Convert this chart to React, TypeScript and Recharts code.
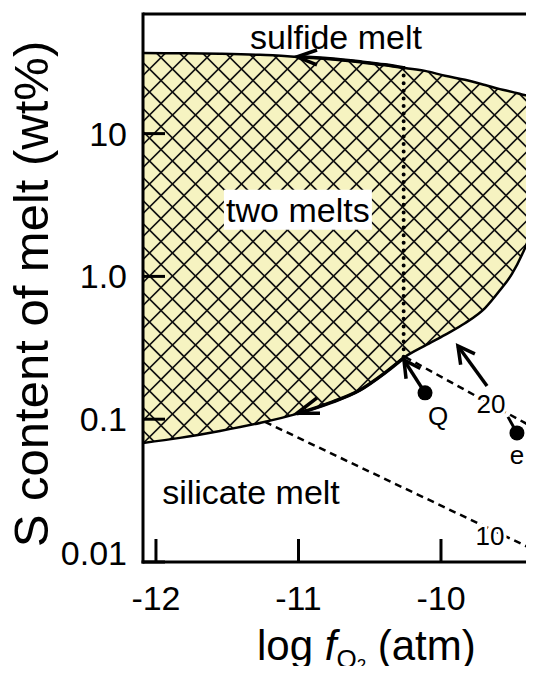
import { ComposedChart, Area, Scatter, XAxis, YAxis, ReferenceLine, ReferenceDot } from 'recharts'

const FONT = '"Liberation Sans", Arial, Helvetica, sans-serif'

// axis ranges (log fO2, wt% S)
const xDomain = [-12.091, -9.221]
const yDomain = [0.01, 68.8]
const xTicks = [-12, -11, -10]
const yTicks = [0.01, 0.1, 1, 10]
const yTickLabels: Record<number, string> = { 0.01: '0.01', 0.1: '0.1', 1: '1.0', 10: '10' }

// two-melt field: sulfide-melt saturation (top) and silicate-melt saturation (bottom)
const regionX = [-12.091, -11.832, -11.551, -11.27, -11.011, -10.779, -10.568, -10.393, -10.253, -10.112, -9.972, -9.832, -9.691, -9.586, -9.502, -9.432, -9.389, -9.368, -9.361]
const sulfideSat = [36.7, 36.5, 36.2, 35.6, 34.5, 33.4, 31.8, 30.3, 28.8, 27.5, 25.4, 23.8, 21.9, 20.5, 19.6, 18.8, 18.4, 18.1, 17.8]
const silicateSat = [0.0682, 0.074, 0.0828, 0.0942, 0.109, 0.13, 0.16, 0.211, 0.273, 0.328, 0.39, 0.47, 0.6, 0.8, 1.04, 1.42, 1.8, 2.19, 17.8]

// bold path segments along the boundaries
const pathStart = 4
const pathEnd = 9

// arrows
const upperHead = [{ x: -10.87, y: 38.5 }, { x: -11.011, y: 34.5 }, { x: -10.87, y: 30.3 }]
const lowerHead = [{ x: -10.87, y: 0.141 }, { x: -11.011, y: 0.11 }, { x: -10.849, y: 0.11 }]
const qShaft = [{ x: -10.112, y: 0.153 }, { x: -10.26, y: 0.26 }]
const qHead = [{ x: -10.145, y: 0.2265 }, { x: -10.26, y: 0.26 }, { x: -10.245, y: 0.192 }]
const arrow20Shaft = [{ x: -9.677, y: 0.171 }, { x: -9.881, y: 0.326 }]
const arrow20Head = [{ x: -9.762, y: 0.287 }, { x: -9.881, y: 0.326 }, { x: -9.862, y: 0.241 }]
const eTail = [{ x: -9.467, y: 0.0802 }, { x: -9.53, y: 0.1038 }]

// sample points
const samples = [{ x: -10.112, y: 0.153 }, { x: -9.467, y: 0.0802 }]

// dashed trends and the dotted line
const trend20 = [{ x: -10.253, y: 0.273 }, { x: -9.347, y: 0.0869 }]
const trend10 = [{ x: -11.235, y: 0.0957 }, { x: -9.347, y: 0.01216 }]
const dotted = [{ x: -10.262, y: 28.8 }, { x: -10.262, y: 0.27 }]

// text annotations
const labels = [
  { text: 'sulfide melt', x: -10.737, y: 47.5, size: 34, halo: false },
  { text: 'silicate melt', x: -11.333, y: 0.031, size: 34, halo: false },
  { text: 'Q', x: -10.021, y: 0.1054, size: 26, halo: false },
  { text: 'e', x: -9.467, y: 0.0562, size: 26, halo: false },
  { text: '20', x: -9.649, y: 0.128, size: 26, halo: true },
  { text: '10', x: -9.656, y: 0.0152, size: 26, halo: true },
]
const boxLabel = { text: 'two melts', x: -11.004, y: 2.93 }

const regionData = regionX.map((x, i) => ({ x, range: [silicateSat[i], sulfideSat[i]] }))
const upperPath = regionX.slice(pathStart, pathEnd).map((x, i) => ({ x, y: sulfideSat[i + pathStart] }))
const lowerPath = regionX.slice(pathStart, pathEnd).map((x, i) => ({ x, y: silicateSat[i + pathStart] }))

const noShape = () => <g />

function YTick(props: any) {
  const { x, y, payload } = props
  const ty = payload.value === 0.01 ? y - 9 : y
  return (
    <g>
      <line x1={x} x2={x + 22} y1={y} y2={y} stroke="#000" strokeWidth={3} />
      <text x={x - 16} y={ty} textAnchor="end" dominantBaseline="central" fontSize={34} fontFamily={FONT} fill="#000">
        {yTickLabels[payload.value]}
      </text>
    </g>
  )
}

function XTick(props: any) {
  const { x, y, payload } = props
  return (
    <g>
      <line x1={x} x2={x} y1={y} y2={y - 23} stroke="#000" strokeWidth={3} />
      <text x={x} y={y + 36} textAnchor="middle" dominantBaseline="central" fontSize={34} fontFamily={FONT} fill="#000">
        {String(payload.value)}
      </text>
    </g>
  )
}

function YTitle(props: any) {
  const vb = props.viewBox
  const cx = vb.x + 31
  const cy = vb.y + vb.height / 2 + 6
  return (
    <text x={cx} y={cy} transform={`rotate(-90 ${cx} ${cy})`} textAnchor="middle" dominantBaseline="central" fontSize={49} fontFamily={FONT} fill="#000">
      S content of melt (wt%)
    </text>
  )
}

function XTitle(props: any) {
  const vb = props.viewBox
  return (
    <text x={vb.x + 114} y={vb.y + 98} fontSize={42} fontFamily={FONT} fill="#000">
      log <tspan fontStyle="italic">f</tspan>
      <tspan fontSize={26} dy={8}>O</tspan>
      <tspan fontSize={17} dy={3}>2</tspan>
      <tspan dy={-11}> (atm)</tspan>
    </text>
  )
}

export default function App() {
  const lineStyle = { stroke: '#000', strokeWidth: 3.5, strokeLinejoin: 'miter' as const, fill: 'none' }
  return (
    <div style={{ margin: -8, width: 534, height: 674, overflow: 'hidden', position: 'relative', background: '#fff' }}>
      <svg width={0} height={0} style={{ position: 'absolute' }}>
        <defs>
          <pattern id="hatch" patternUnits="userSpaceOnUse" width={23} height={23}>
            <rect width={23} height={23} fill="#f6f3c1" />
            <path d="M0,11.5 L11.5,0 M11.5,23 L23,11.5 M0,11.5 L11.5,23 M11.5,0 L23,11.5" stroke="#111" strokeWidth={1.7} strokeLinecap="square" />
          </pattern>
        </defs>
      </svg>
      <ComposedChart width={560} height={674} data={regionData} margin={{ top: 14, right: 8, bottom: 0, left: 0 }}>
        <XAxis
          type="number"
          dataKey="x"
          domain={xDomain}
          allowDataOverflow
          ticks={xTicks}
          interval={0}
          height={112}
          tickSize={0}
          tickMargin={0}
          tickLine={false}
          tick={<XTick />}
          axisLine={{ stroke: '#000', strokeWidth: 3, strokeLinecap: 'square' }}
          label={{ content: <XTitle /> }}
        />
        <YAxis
          type="number"
          dataKey="y"
          scale="log"
          domain={yDomain}
          allowDataOverflow
          ticks={yTicks}
          interval={0}
          width={143}
          tickSize={0}
          tickMargin={0}
          tickLine={false}
          tick={<YTick />}
          axisLine={{ stroke: '#000', strokeWidth: 3, strokeLinecap: 'square' }}
          label={{ content: <YTitle /> }}
        />
        <ReferenceLine y={yDomain[1]} stroke="#000" strokeWidth={3} />

        <Area
          dataKey="range"
          type="monotoneX"
          fill="url(#hatch)"
          fillOpacity={1}
          stroke="#000"
          strokeWidth={2.5}
          isAnimationActive={false}
        />

        <Scatter data={dotted} dataKey="y" shape={noShape} line={{ stroke: '#000', strokeWidth: 4, strokeDasharray: '0 7.6', strokeLinecap: 'round' }} lineType="joint" isAnimationActive={false} />
        <Scatter data={trend20} dataKey="y" shape={noShape} line={{ stroke: '#000', strokeWidth: 2.5, strokeDasharray: '7 5' }} lineType="joint" isAnimationActive={false} />
        <Scatter data={trend10} dataKey="y" shape={noShape} line={{ stroke: '#000', strokeWidth: 2.5, strokeDasharray: '7 5' }} lineType="joint" isAnimationActive={false} />

        <Scatter data={upperPath} dataKey="y" shape={noShape} line={lineStyle} lineType="joint" lineJointType="monotoneX" isAnimationActive={false} />
        <Scatter data={lowerPath} dataKey="y" shape={noShape} line={lineStyle} lineType="joint" lineJointType="monotoneX" isAnimationActive={false} />
        <Scatter data={upperHead} dataKey="y" shape={noShape} line={lineStyle} lineType="joint" isAnimationActive={false} />
        <Scatter data={lowerHead} dataKey="y" shape={noShape} line={lineStyle} lineType="joint" isAnimationActive={false} />
        <Scatter data={qShaft} dataKey="y" shape={noShape} line={lineStyle} lineType="joint" isAnimationActive={false} />
        <Scatter data={qHead} dataKey="y" shape={noShape} line={lineStyle} lineType="joint" isAnimationActive={false} />
        <Scatter data={arrow20Shaft} dataKey="y" shape={noShape} line={lineStyle} lineType="joint" isAnimationActive={false} />
        <Scatter data={arrow20Head} dataKey="y" shape={noShape} line={lineStyle} lineType="joint" isAnimationActive={false} />
        <Scatter data={eTail} dataKey="y" shape={noShape} line={{ stroke: '#000', strokeWidth: 3 }} lineType="joint" isAnimationActive={false} />

        <Scatter
          data={samples}
          dataKey="y"
          shape={(p: any) => <circle cx={p.cx} cy={p.cy} r={7.5} fill="#000" />}
          isAnimationActive={false}
        />

        <ReferenceDot
          x={boxLabel.x}
          y={boxLabel.y}
          r={0}
          shape={(p: any) => (
            <g>
              <rect x={p.cx - 74} y={p.cy - 20} width={148} height={40} fill="#fff" />
              <text x={p.cx} y={p.cy} textAnchor="middle" dominantBaseline="central" fontSize={34} fontFamily={FONT} fill="#000">
                {boxLabel.text}
              </text>
            </g>
          )}
        />
        {labels.map(l => (
          <ReferenceDot
            key={l.text}
            x={l.x}
            y={l.y}
            r={0}
            shape={(p: any) => (
              <text
                x={p.cx}
                y={p.cy}
                textAnchor="middle"
                dominantBaseline="central"
                fontSize={l.size}
                fontFamily={FONT}
                fill="#000"
                stroke={l.halo ? '#fff' : 'none'}
                strokeWidth={l.halo ? 6 : 0}
                paintOrder="stroke"
              >
                {l.text}
              </text>
            )}
          />
        ))}
      </ComposedChart>
    </div>
  )
}
